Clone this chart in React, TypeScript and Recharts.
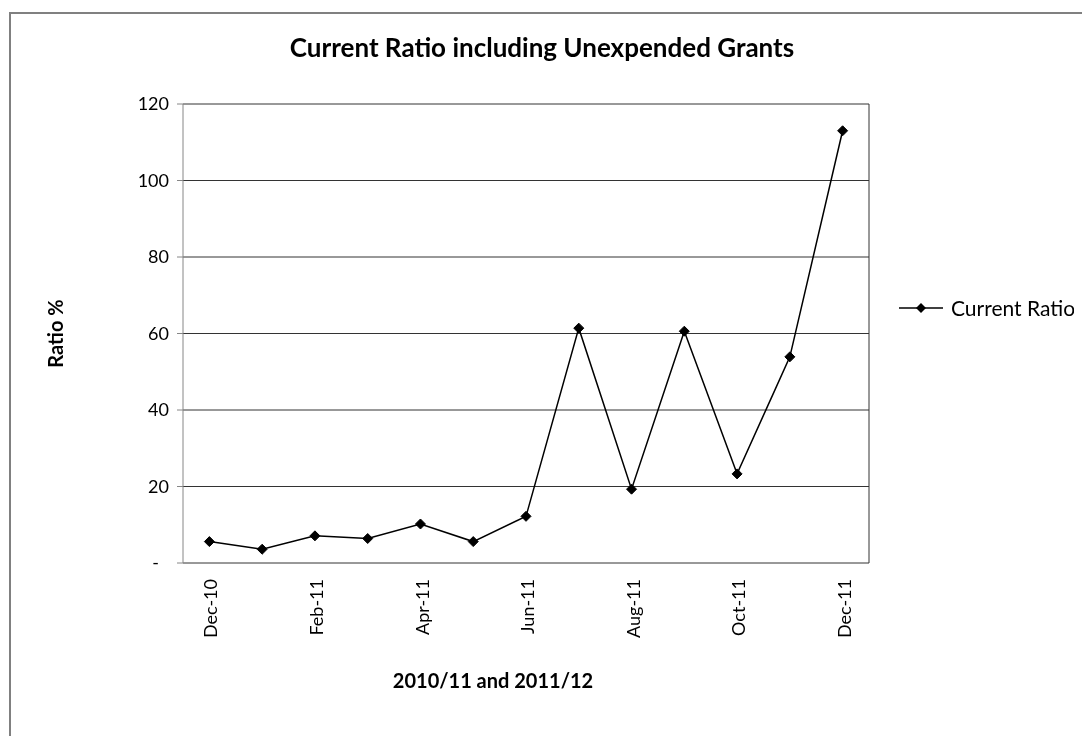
import React from 'react';
import {
  LineChart, Line, XAxis, YAxis, CartesianGrid, Legend
} from 'recharts';

const months = [
  'Dec-10', 'Jan-11', 'Feb-11', 'Mar-11', 'Apr-11', 'May-11', 'Jun-11',
  'Jul-11', 'Aug-11', 'Sep-11', 'Oct-11', 'Nov-11', 'Dec-11'
];
const currentRatio = [5.6, 3.6, 7.1, 6.4, 10.2, 5.6, 12.2, 61.4, 19.3, 60.6, 23.3, 53.9, 113];
const yTicks = [0, 20, 40, 60, 80, 100, 120];
// tick marks sit on category boundaries, every second month
const boundaryTicks = [0, 2, 4, 6, 8, 10, 12];

const chartTitle = 'Current Ratio including Unexpended Grants';
const xTitle = '2010/11 and 2011/12';
const yTitle = 'Ratio %';
const seriesName = 'Current Ratio';

const data = months.map((m, i) => ({ month: m, ratio: currentRatio[i] }));

const FONT = 'Lato, "Open Sans", sans-serif';

const Diamond = (props: any) => {
  const { cx, cy } = props;
  if (cx == null || cy == null) return null;
  const r = 5;
  return (
    <polygon
      points={`${cx},${cy - r} ${cx + r},${cy} ${cx},${cy + r} ${cx - r},${cy}`}
      fill="#000"
      stroke="#000"
    />
  );
};

const MonthTick = (props: any) => {
  const { x, y, payload } = props;
  return (
    <g transform={`translate(${x},${y})`}>
      <text
        x={0}
        y={0}
        dy="0.45em"
        dx={-8}
        textAnchor="end"
        transform="rotate(-90)"
        fill="#000"
        fontSize={18}
        fontFamily={FONT}
      >
        {payload.value}
      </text>
    </g>
  );
};

// Excel accounting style: zero shows as a dash, set in from the right
const RatioTick = (props: any) => {
  const { x, y, payload } = props;
  const zero = payload.value === 0;
  return (
    <text
      x={zero ? x - 10 : x}
      y={y}
      dy="0.355em"
      textAnchor="end"
      fill="#000"
      fontSize={18}
      fontFamily={FONT}
    >
      {zero ? '-' : payload.value}
    </text>
  );
};

const NoTick = () => <g />;

const LegendBox = () => (
  <div style={{ display: 'flex', alignItems: 'center', fontFamily: FONT, fontSize: 21, color: '#000', whiteSpace: 'nowrap' }}>
    <svg width={48} height={14} style={{ marginRight: 4, flex: 'none' }}>
      <line x1={0} y1={7} x2={44} y2={7} stroke="#000" strokeWidth={1.5} />
      <polygon points="22,2 27,7 22,12 17,7" fill="#000" />
    </svg>
    <span>{seriesName}</span>
  </div>
);

export default function App() {
  return (
    <div style={{ position: 'relative', width: 1066, height: 720, fontFamily: FONT, background: '#fff' }}>
      <div
        style={{
          position: 'fixed', left: 9, top: 12, right: -10, bottom: -10,
          borderTop: '2px solid #808080', borderLeft: '2px solid #808080'
        }}
      />
      <div
        style={{
          position: 'absolute', left: 134, top: 26, width: 800, textAlign: 'center',
          fontWeight: 'bold', fontSize: 26, lineHeight: '26px', color: '#000'
        }}
      >
        {chartTitle}
      </div>
      <LineChart
        width={1066}
        height={720}
        data={data}
        margin={{ top: 96, right: 205, left: 0, bottom: 65 }}
        style={{ position: 'absolute', left: 0, top: 0 }}
      >
        <CartesianGrid
          stroke="#333"
          verticalCoordinatesGenerator={({ offset }: any) => [offset.left + offset.width]}
        />
        <XAxis
          xAxisId="grid"
          type="number"
          domain={[0, months.length]}
          ticks={boundaryTicks}
          height={0}
          tick={NoTick}
          tickSize={5}
          stroke="#868686"
          allowDataOverflow
        />
        <XAxis
          xAxisId="cat"
          dataKey="month"
          scale="band"
          interval={1}
          height={100}
          axisLine={false}
          tickLine={false}
          tick={<MonthTick />}
          label={({ viewBox }: any) => (
            <text
              x={viewBox.x + viewBox.width / 2 - 33}
              y={viewBox.y + 125}
              textAnchor="middle"
              fontWeight="bold"
              fontSize={20}
              fontFamily={FONT}
              fill="#000"
            >
              {xTitle}
            </text>
          )}
        />
        <YAxis
          width={175}
          domain={[0, 120]}
          ticks={yTicks}
          tickSize={6}
          tickMargin={8}
          stroke="#868686"
          tick={<RatioTick />}
          label={({ viewBox }: any) => {
            const cx = viewBox.x + 47;
            const cy = viewBox.y + viewBox.height / 2;
            return (
              <text
                x={cx}
                y={cy}
                transform={`rotate(-90, ${cx}, ${cy})`}
                textAnchor="middle"
                dominantBaseline="central"
                fontWeight="bold"
                fontSize={20}
                fontFamily={FONT}
                fill="#000"
              >
                {yTitle}
              </text>
            );
          }}
        />
        <Legend
          layout="vertical"
          align="center"
          verticalAlign="middle"
          content={<LegendBox />}
          wrapperStyle={{ position: 'absolute', left: 891, top: 287, width: 200 }}
        />
        <Line
          xAxisId="cat"
          type="linear"
          dataKey="ratio"
          name={seriesName}
          stroke="#000"
          strokeWidth={1.5}
          dot={<Diamond />}
          activeDot={false}
          isAnimationActive={false}
        />
      </LineChart>
    </div>
  );
}
